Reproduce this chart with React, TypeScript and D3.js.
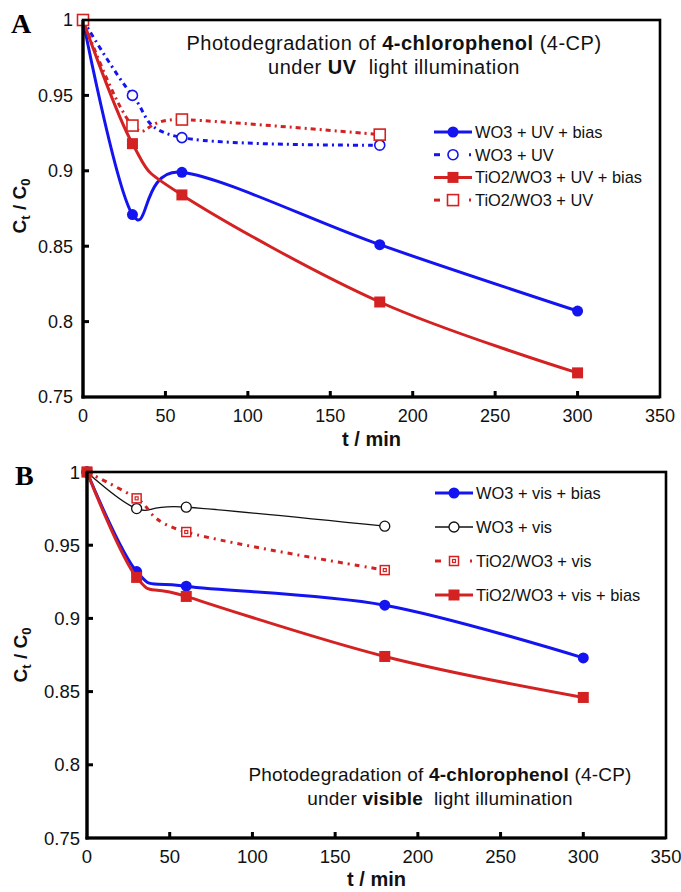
import React from 'react';
import * as d3 from 'd3';

// time points (min)
const tLong = [0, 30, 60, 180, 300];
const tShort = [0, 30, 60, 180];

// panel A : UV light
const uvWO3Bias = [1, 0.871, 0.899, 0.851, 0.807];
const uvWO3 = [1, 0.95, 0.922, 0.917];
const uvTiWO3Bias = [1, 0.918, 0.884, 0.813, 0.766];
const uvTiWO3 = [1, 0.93, 0.934, 0.924];

// panel B : visible light
const visWO3Bias = [1, 0.932, 0.922, 0.909, 0.873];
const visWO3 = [1, 0.975, 0.976, 0.963];
const visTiWO3 = [1, 0.982, 0.959, 0.933];
const visTiWO3Bias = [1, 0.928, 0.915, 0.874, 0.846];

const xTicks = [0, 50, 100, 150, 200, 250, 300, 350];
const yTicks = [0.75, 0.8, 0.85, 0.9, 0.95, 1];

const BLUE = '#1414f0';
const RED = '#d42222';
const FONT = '"Liberation Sans", Arial, Helvetica, sans-serif';

type Series = {
  name: string;
  t: number[];
  v: number[];
  color: string;
  width: number;
  dash?: string;
  marker: 'dot' | 'ring' | 'square' | 'box' | 'box2';
};

const seriesA: Series[] = [
  { name: 'WO3 + UV + bias', t: tLong, v: uvWO3Bias, color: BLUE, width: 3, marker: 'dot' },
  { name: 'WO3 + UV', t: tShort, v: uvWO3, color: BLUE, width: 3, dash: '5,4,2,4', marker: 'ring' },
  { name: 'TiO2/WO3 + UV + bias', t: tLong, v: uvTiWO3Bias, color: RED, width: 3, marker: 'square' },
  { name: 'TiO2/WO3 + UV', t: tShort, v: uvTiWO3, color: RED, width: 3, dash: '5,4,2,4', marker: 'box' },
];

const seriesB: Series[] = [
  { name: 'WO3 + vis + bias', t: tLong, v: visWO3Bias, color: BLUE, width: 3, marker: 'dot' },
  { name: 'WO3 + vis', t: tShort, v: visWO3, color: '#111', width: 1.3, marker: 'ring' },
  { name: 'TiO2/WO3 + vis', t: tShort, v: visTiWO3, color: RED, width: 3, dash: '5,5,2,5', marker: 'box2' },
  { name: 'TiO2/WO3 + vis + bias', t: tLong, v: visTiWO3Bias, color: RED, width: 3, marker: 'square' },
];

const Marker = ({ s, x, y }: { s: Series; x: number; y: number }) => {
  if (s.marker === 'dot') return <circle cx={x} cy={y} r={5.5} fill={s.color} />;
  if (s.marker === 'ring')
    return <circle cx={x} cy={y} r={5} fill="#fff" stroke={s.color} strokeWidth={s.width > 2 ? 1.6 : 1.3} />;
  if (s.marker === 'square') return <rect x={x - 5.5} y={y - 5.5} width={11} height={11} fill={s.color} />;
  if (s.marker === 'box')
    return <rect x={x - 5.5} y={y - 5.5} width={11} height={11} fill="#fff" stroke={s.color} strokeWidth={1.6} />;
  return (
    <g>
      <rect x={x - 4.5} y={y - 4.5} width={9} height={9} fill="#fff" stroke={s.color} strokeWidth={1.5} />
      <rect x={x - 1.5} y={y - 1.5} width={3} height={3} fill="none" stroke={s.color} strokeWidth={1.2} />
    </g>
  );
};

type PanelProps = {
  letter: string;
  frame: { left: number; right: number; top: number; bottom: number };
  series: Series[];
  legend: { x: number; y: number; dy: number };
  title: { x: number; y: number; size: number; spacing: number; light: string };
  tickSize: number;
  labelGap: number;
  yTitle: { x: number; y: number };
  xTitleY: number;
  xLabelY: number;
};

const Panel = ({ letter, frame, series, legend, title, tickSize, labelGap, yTitle, xTitleY, xLabelY }: PanelProps) => {
  const x = d3.scaleLinear().domain([0, 350]).range([frame.left, frame.right]);
  const y = d3.scaleLinear().domain([0.75, 1]).range([frame.bottom, frame.top]);
  const line = d3.line().curve(d3.curveCardinal.tension(0));

  return (
    <g fontFamily={FONT}>
      <text x={frame.left - 72} y={frame.top + 13} fontFamily='"Liberation Serif", "Times New Roman", serif' fontWeight="bold" fontSize={28}>
        {letter}
      </text>

      {/* title */}
      <text x={title.x} y={title.y} textAnchor="middle" fontSize={title.size} letterSpacing={title.spacing} fill="#111">
        Photodegradation of <tspan fontWeight="bold">4-chlorophenol</tspan> (4-CP)
      </text>
      <text x={title.x} y={title.y + 24} textAnchor="middle" fontSize={title.size} letterSpacing={title.spacing} fill="#111" xmlSpace="preserve">
        under <tspan fontWeight="bold">{title.light}</tspan>{'  '}light illumination
      </text>

      {/* data */}
      {series.map((s) => {
        const pts: [number, number][] = s.t.map((t, i) => [x(t), y(s.v[i])]);
        return (
          <g key={s.name}>
            <path d={line(pts) || ''} fill="none" stroke={s.color} strokeWidth={s.width} strokeDasharray={s.dash} />
            {pts.map((p, i) => (
              <Marker key={i} s={s} x={p[0]} y={p[1]} />
            ))}
          </g>
        );
      })}

      {/* frame */}
      <rect x={frame.left} y={frame.top} width={frame.right - frame.left} height={frame.bottom - frame.top} fill="none" stroke="#000" strokeWidth={2.6} />
      <line x1={frame.left} x2={frame.left} y1={frame.top} y2={frame.bottom + 1.5} stroke="#000" strokeWidth={3.2} />
      <line x1={frame.left - 1.5} x2={frame.right} y1={frame.bottom} y2={frame.bottom} stroke="#000" strokeWidth={3.2} />

      {/* x axis */}
      {xTicks.map((t) => (
        <g key={t}>
          {t > 0 && t < 350 && <line x1={x(t)} x2={x(t)} y1={frame.bottom} y2={frame.bottom - 6} stroke="#000" strokeWidth={3} />}
          <text x={x(t)} y={xLabelY} textAnchor="middle" fontSize={tickSize} fill="#111">
            {t}
          </text>
        </g>
      ))}
      {/* y axis */}
      {yTicks.map((v) => (
        <g key={v}>
          {v > 0.75 && v < 1 && <line x1={frame.left} x2={frame.left + 6} y1={y(v)} y2={y(v)} stroke="#000" strokeWidth={3} />}
          <text x={frame.left - labelGap} y={y(v)} dy="0.36em" textAnchor="end" fontSize={tickSize} fill="#111">
            {String(Math.round(v * 100) / 100)}
          </text>
        </g>
      ))}

      <text x={(frame.left + frame.right) / 2} y={xTitleY} textAnchor="middle" fontSize={20} fontWeight="bold" fill="#111">
        t / min
      </text>
      <text transform={`translate(${yTitle.x},${yTitle.y}) rotate(-90)`} textAnchor="middle" fontSize={19} fontWeight="bold" fill="#111">
        C<tspan dy={4} fontSize={13}>t</tspan>
        <tspan dy={-4}> / C</tspan>
        <tspan dy={4} fontSize={13}>0</tspan>
      </text>

      {/* legend */}
      {series.map((s, i) => {
        const ly = legend.y + i * legend.dy;
        const lx0 = legend.x;
        const lx1 = legend.x + 38;
        const mid = (lx0 + lx1) / 2;
        return (
          <g key={s.name}>
            {s.dash ? (
              <g>
                <line x1={lx0} x2={lx0 + 6} y1={ly} y2={ly} stroke={s.color} strokeWidth={3} />
                <line x1={lx1 - 3} x2={lx1 - 1} y1={ly} y2={ly} stroke={s.color} strokeWidth={3} />
              </g>
            ) : (
              <line x1={lx0} x2={lx1} y1={ly} y2={ly} stroke={s.color} strokeWidth={s.width} />
            )}
            <Marker s={s} x={mid} y={ly} />
            <text x={lx1 + 3} y={ly + 5.8} fontSize={16.4} fill="#111">
              {s.name}
            </text>
          </g>
        );
      })}
    </g>
  );
};

export default function App() {
  return (
    <svg width={681} height={892} style={{ position: 'absolute', left: 0, top: 0, background: '#fff' }}>
      <rect width={681} height={892} fill="#fff" />
      <Panel
        letter="A"
        frame={{ left: 83, right: 660, top: 20, bottom: 397 }}
        series={seriesA}
        legend={{ x: 434, y: 132, dy: 22.7 }}
        title={{ x: 394, y: 50, size: 20, spacing: 0.5, light: 'UV' }}
        tickSize={18}
        labelGap={10}
        yTitle={{ x: 26, y: 206 }}
        xTitleY={446}
        xLabelY={422}
      />
      <Panel
        letter="B"
        frame={{ left: 87, right: 666, top: 472, bottom: 838 }}
        series={seriesB}
        legend={{ x: 435, y: 493, dy: 34 }}
        title={{ x: 440, y: 781, size: 19, spacing: 0.2, light: 'visible' }}
        tickSize={18.5}
        labelGap={7}
        yTitle={{ x: 27, y: 655 }}
        xTitleY={886}
        xLabelY={863}
      />
    </svg>
  );
}
